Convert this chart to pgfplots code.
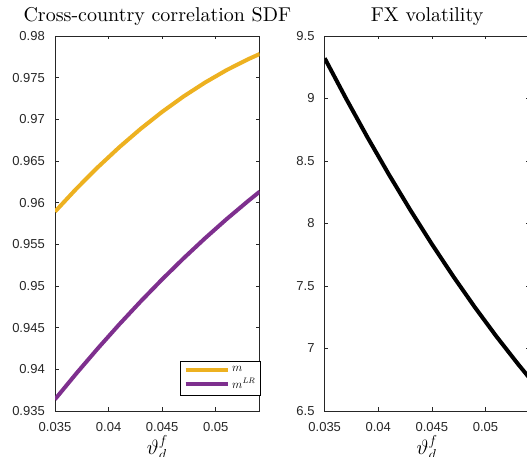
\documentclass[border=0pt]{standalone}
\usepackage{fontspec}
\usepackage{pgfplots}
\pgfplotsset{compat=1.18}
\newfontfamily\tickfont{Liberation Sans}
\newfontfamily\titlefont{lmroman10-regular}[Extension=.otf]
\definecolor{morange}{RGB}{237,177,32}
\definecolor{mpurple}{RGB}{126,47,142}
\definecolor{axgray}{RGB}{38,38,38}
\newcommand\tickfnt{\tickfont\fontsize{13}{15}\selectfont}
\newcommand\legfnt{\fontsize{12}{14}\selectfont}
\pgfplotsset{
  mystyle/.style={
    scale only axis, width=204.7pt, height=375pt,
    xmin=0.035, xmax=0.0541,
    xtick={0.035,0.04,0.045,0.05},
    scaled x ticks=false, scaled y ticks=false,
    tick pos=both, tick align=inside,
    major tick length=3.5pt,
    axis line style={axgray, line width=0.6pt},
    every tick/.style={axgray, line width=0.6pt},
    /pgf/number format/assume math mode=true,
    /pgf/number format/fixed,
    /pgf/number format/precision=3,
    xticklabel={\tickfnt\pgfmathprintnumber{\tick}},
    yticklabel={\tickfnt\pgfmathprintnumber{\tick}},
    every tick label/.append style={text=axgray},
    xticklabel style={anchor=base, inner sep=0pt, yshift=-20.7pt},
    yticklabel style={anchor=east, inner sep=0pt, xshift=-10pt},
    title style={at={(0.5,1)}, anchor=base, yshift=8.7pt, font=\titlefont\fontsize{20}{24}\selectfont},
    xlabel style={at={(0.5,0)}, anchor=base, yshift=-44pt, font=\fontsize{20}{24}\selectfont},
    xlabel={$\vartheta_d^f$},
  }
}
\begin{document}
\begin{tikzpicture}[x=1pt,y=1pt]
\begin{axis}[mystyle, at={(55pt,46pt)}, anchor=south west,
  ymin=0.935, ymax=0.98,
  ytick={0.935,0.94,0.945,0.95,0.955,0.96,0.965,0.97,0.975,0.98},
  title={Cross-country correlation SDF},
  legend style={at={(1,0)}, anchor=south east, yshift=15pt, xshift=0.8pt,
    draw=black, line width=0.5pt, fill=white,
    font=\legfnt, inner xsep=3pt, inner ysep=4pt, row sep=1pt},
  legend cell align=left,
  legend image code/.code={\draw[#1] (0pt,0pt) -- (42.7pt,0pt);},
]
\addplot[morange, line width=4pt] coordinates {
(0.035,0.95892) (0.037,0.961681) (0.039,0.964259) (0.041,0.966655)
(0.043,0.968869) (0.045,0.970901) (0.047,0.972750) (0.049,0.974416)
(0.051,0.975901) (0.053,0.977202) (0.0541,0.977841)};
\addlegendentry{\legfnt$m$}
\addplot[mpurple, line width=4pt] coordinates {
(0.035,0.93640) (0.037,0.939518) (0.039,0.942517) (0.041,0.945397)
(0.043,0.948158) (0.045,0.950801) (0.047,0.953324) (0.049,0.955728)
(0.051,0.958014) (0.053,0.960180) (0.0541,0.961321)};
\addlegendentry{\legfnt$m^{LR}$}
\end{axis}
\begin{axis}[mystyle, at={(324.7pt,46pt)}, anchor=south west,
  ymin=6.5, ymax=9.5,
  ytick={6.5,7,7.5,8,8.5,9,9.5},
  title={FX volatility},
]
\addplot[black, line width=4pt] coordinates {
(0.035,9.322) (0.037,8.9985) (0.039,8.6881) (0.041,8.3906)
(0.043,8.1062) (0.045,7.8349) (0.047,7.5765) (0.049,7.3312)
(0.051,7.0989) (0.053,6.8796) (0.0541,6.7646)};
\end{axis}
\pgfresetboundingbox
\useasboundingbox (0pt,0pt) rectangle (527pt,457pt);
\end{tikzpicture}
\end{document}
